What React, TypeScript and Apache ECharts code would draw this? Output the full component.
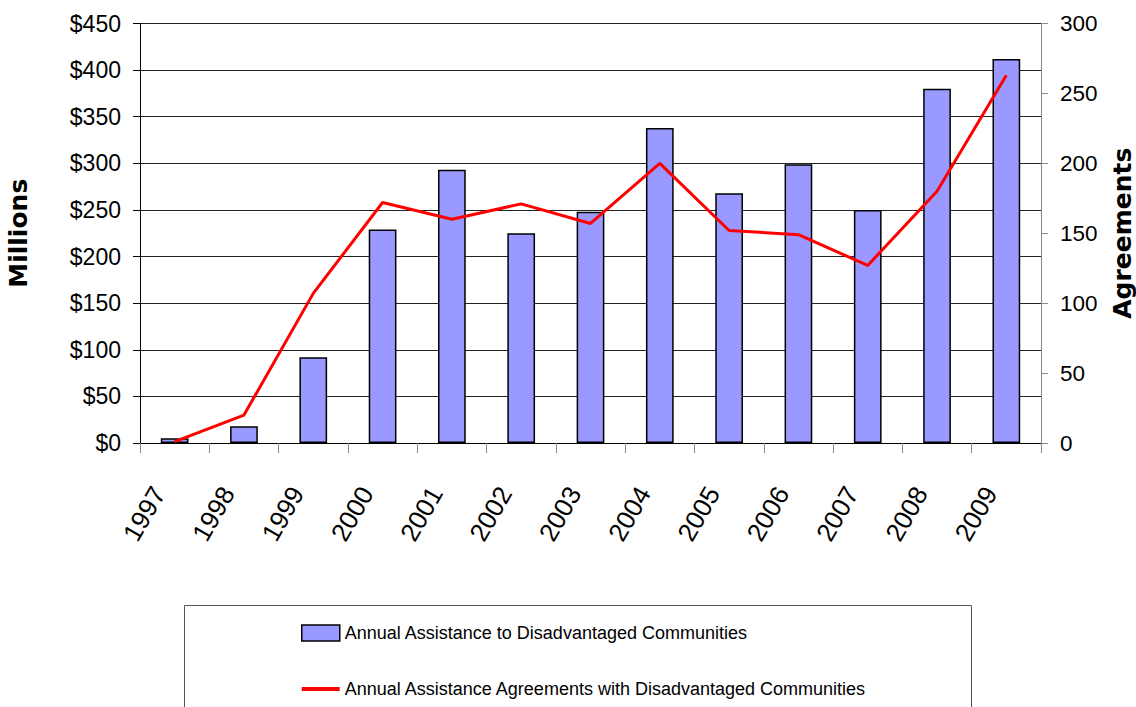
import React, { useEffect, useRef } from "react";
import * as echarts from "echarts";

const years = ["1997", "1998", "1999", "2000", "2001", "2002", "2003", "2004", "2005", "2006", "2007", "2008", "2009"];
const assistanceMillions = [5, 18, 92, 229, 293, 225, 248, 338, 268, 299, 250, 380, 412];
const agreementsCount = [1, 20, 107, 172, 160, 171, 157, 200, 152, 149, 127, 180, 263];
const leftAxisMax = 450;
const rightAxisMax = 300;
const tickStep = 50;
const barName = "Annual Assistance to Disadvantaged Communities";
const lineName = "Annual Assistance Agreements with Disadvantaged Communities";

const ARIAL = "Liberation Sans, Arial, sans-serif";
const BOLD = "DejaVu Sans, sans-serif";

export default function App() {
  const ref = useRef<HTMLDivElement>(null);
  useEffect(() => {
    if (!ref.current) return;
    const chart = echarts.init(ref.current, null, { renderer: "svg" });
    chart.setOption({
      animation: false,
      backgroundColor: "#ffffff",
      grid: { left: 140, top: 23.5, width: 901, height: 419.5, containLabel: false, outerBoundsMode: "none" },
      graphic: [
        {
          type: "rect",
          shape: { x: 184.5, y: 605.5, width: 787, height: 120 },
          style: { fill: "none", stroke: "#555", lineWidth: 1 },
          z: 0,
        },
      ],
      legend: {
        orient: "vertical",
        left: 301,
        top: 624,
        padding: 0,
        itemWidth: 38,
        itemHeight: 16,
        itemGap: 38,
        textStyle: { fontFamily: ARIAL, fontSize: 18, lineHeight: 16, color: "#000" },
        data: [
          { name: barName, icon: "rect", itemStyle: { color: "#9999FF", borderColor: "#000", borderWidth: 1.5 } },
          { name: lineName, icon: "path://M0,0 H38 V4 H0 Z", itemStyle: { color: "#FF0000", borderWidth: 0 } },
        ],
      },
      xAxis: {
        type: "category",
        data: years,
        boundaryGap: true,
        axisLine: { show: true, lineStyle: { color: "#000", width: 1 } },
        axisTick: { show: true, length: 10, interval: 0, lineStyle: { color: "#888" } },
        axisLabel: {
          interval: 0,
          rotate: 60,
          margin: 18,
          padding: [0, 32, 0, 0],
          fontFamily: ARIAL,
          fontSize: 26,
          color: "#000",
        },
        splitLine: { show: false },
      },
      yAxis: [
        {
          type: "value",
          min: 0,
          max: leftAxisMax,
          interval: tickStep,
          position: "left",
          name: "Millions",
          nameLocation: "middle",
          nameRotate: 90,
          nameGap: 109,
          nameTextStyle: { fontFamily: BOLD, fontWeight: "bold", fontSize: 25, color: "#000" },
          axisLine: { show: true, lineStyle: { color: "#000", width: 1 } },
          axisTick: { show: true, length: 7, lineStyle: { color: "#000" } },
          axisLabel: {
            margin: 19,
            fontFamily: ARIAL,
            fontSize: 23,
            color: "#000",
            formatter: (v: number) => "$" + v,
          },
          splitLine: { show: true, lineStyle: { color: "#222", width: 1 } },
        },
        {
          type: "value",
          min: 0,
          max: rightAxisMax,
          interval: tickStep,
          position: "right",
          name: "Agreements",
          nameLocation: "middle",
          nameRotate: 90,
          nameGap: 69,
          nameTextStyle: { fontFamily: BOLD, fontWeight: "bold", fontSize: 25, color: "#000" },
          axisLine: { show: true, lineStyle: { color: "#888", width: 1 } },
          axisTick: { show: true, length: 7, lineStyle: { color: "#888" } },
          axisLabel: { margin: 19, fontFamily: ARIAL, fontSize: 22.5, color: "#000" },
          splitLine: { show: false },
        },
      ],
      series: [
        {
          name: barName,
          type: "bar",
          yAxisIndex: 0,
          data: assistanceMillions,
          barWidth: "40%",
          itemStyle: { color: "#9999FF", borderColor: "#000", borderWidth: 1.5 },
          z: 2,
        },
        {
          name: lineName,
          type: "line",
          yAxisIndex: 1,
          data: agreementsCount,
          symbol: "none",
          lineStyle: { color: "#FF0000", width: 3 },
          itemStyle: { color: "#FF0000" },
          z: 3,
        },
      ],
    });
    return () => chart.dispose();
  }, []);
  return (
    <div
      ref={ref}
      style={{ position: "absolute", left: 0, top: 0, width: 1136, height: 707, background: "#fff" }}
    />
  );
}
